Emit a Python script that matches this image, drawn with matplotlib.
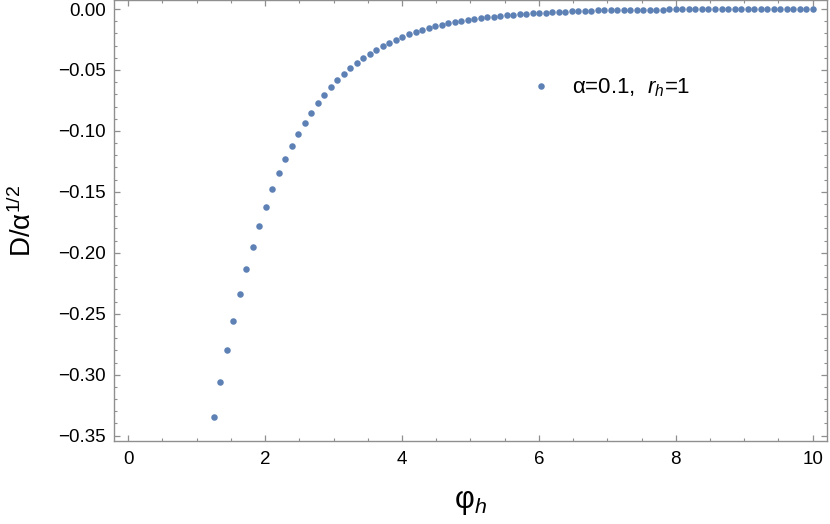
import matplotlib
matplotlib.use('Agg')
import matplotlib.pyplot as plt
from matplotlib.ticker import MultipleLocator, FuncFormatter

plt.rcParams['font.family'] = ['Liberation Sans', 'DejaVu Sans']
plt.rcParams['mathtext.fontset'] = 'custom'
plt.rcParams['mathtext.rm'] = 'Liberation Sans'
plt.rcParams['mathtext.it'] = 'Liberation Sans:italic'

# phi_h values
phi_h = [1.250, 1.345, 1.440, 1.535, 1.630, 1.726, 1.821, 1.916, 2.011, 2.106,
         2.201, 2.296, 2.391, 2.486, 2.582, 2.677, 2.772, 2.867, 2.962, 3.057,
         3.152, 3.247, 3.342, 3.438, 3.533, 3.628, 3.723, 3.818, 3.913, 4.008,
         4.103, 4.198, 4.294, 4.389, 4.484, 4.579, 4.674, 4.769, 4.864, 4.959,
         5.054, 5.150, 5.245, 5.340, 5.435, 5.530, 5.625, 5.720, 5.815, 5.910,
         6.006, 6.101, 6.196, 6.291, 6.386, 6.481, 6.576, 6.671, 6.766, 6.861,
         6.957, 7.052, 7.147, 7.242, 7.337, 7.432, 7.527, 7.622, 7.717, 7.813,
         7.908, 8.003, 8.098, 8.193, 8.288, 8.383, 8.478, 8.573, 8.669, 8.764,
         8.859, 8.954, 9.049, 9.144, 9.239, 9.334, 9.429, 9.525, 9.620, 9.715,
         9.810, 9.905, 10.000]

# D / alpha^(1/2)
D = [-0.3345, -0.3060, -0.2800, -0.2559, -0.2338, -0.2135, -0.1950, -0.1778, -0.1622, -0.1479,
     -0.1348, -0.1231, -0.1121, -0.1023, -0.0933, -0.0851, -0.0774, -0.0706, -0.0642, -0.0585,
     -0.0532, -0.0484, -0.0441, -0.0402, -0.0367, -0.0334, -0.0304, -0.0277, -0.0252, -0.0229,
     -0.0208, -0.0190, -0.0172, -0.0156, -0.0141, -0.0129, -0.0117, -0.0107, -0.0098, -0.0090,
     -0.0082, -0.0075, -0.0068, -0.0063, -0.0057, -0.0052, -0.0047, -0.0043, -0.0039, -0.0035,
     -0.0032, -0.0029, -0.0026, -0.0023, -0.0021, -0.0019, -0.0017, -0.0015, -0.0014, -0.0012,
     -0.0011, -0.0010, -0.0009, -0.0008, -0.0007, -0.0006, -0.00055, -0.0005, -0.00045, -0.0004,
     -0.00035, -0.0003, -0.00027, -0.00024, -0.00021, -0.00019, -0.00017, -0.00015, -0.00013, -0.00012,
     -0.0001, -0.00009, -0.00008, -0.00007, -0.00006, -0.00005, -0.00005, -0.00004, -0.00004, -0.00003,
     -0.00003, -0.00002, -0.00002]

label = r'α=0.1,  $\mathit{r}_{\mathit{h}}$=1'

color = '#5E81B5'
frame = '#8f8f8f'

fig = plt.figure(figsize=(8.3, 5.24), dpi=100)
ax = fig.add_axes([114 / 830, 1 - 441 / 524, 713 / 830, 441 / 524])

ax.plot(phi_h, D, 'o', ms=4.7, color=color, mec='none', label=label)

ax.set_xlim(-0.207, 10.21)
ax.set_ylim(-0.3544, 0.0074)

ax.xaxis.set_major_locator(MultipleLocator(2))
ax.xaxis.set_minor_locator(MultipleLocator(0.5))
ax.yaxis.set_major_locator(MultipleLocator(0.05))
ax.yaxis.set_minor_locator(MultipleLocator(0.01))

def yfmt(v, pos):
    s = '%.2f' % abs(v)
    return s if abs(v) < 1e-9 else '\u2212' + s
ax.yaxis.set_major_formatter(FuncFormatter(yfmt))
ax.xaxis.set_major_formatter(FuncFormatter(lambda v, p: '%d' % round(v)))

for sp in ax.spines.values():
    sp.set_color(frame)
    sp.set_linewidth(1.0)
ax.tick_params(which='both', direction='in', top=True, right=True, color=frame,
               labelsize=13.5, labelcolor='black')
ax.tick_params(which='major', length=4.5, width=0.9)
ax.tick_params(which='minor', length=2.5, width=0.8)
ax.tick_params(axis='y', pad=6)
ax.tick_params(axis='x', pad=7)

ax.set_xlabel(r'$\mathrm{φ}_{\mathit{h}}$', fontsize=22, labelpad=14)
ax.set_ylabel(r'D/α$^{\mathrm{1/2}}$', fontsize=20, labelpad=15)

ax.legend(loc='center left', bbox_to_anchor=(529.9 / 830, 1 - 88 / 524),
          bbox_transform=fig.transFigure, frameon=False, fontsize=16,
          borderpad=0, borderaxespad=0, handlelength=1.0, handletextpad=0.9,
          numpoints=1)

fig.savefig('out.png', dpi=100)
